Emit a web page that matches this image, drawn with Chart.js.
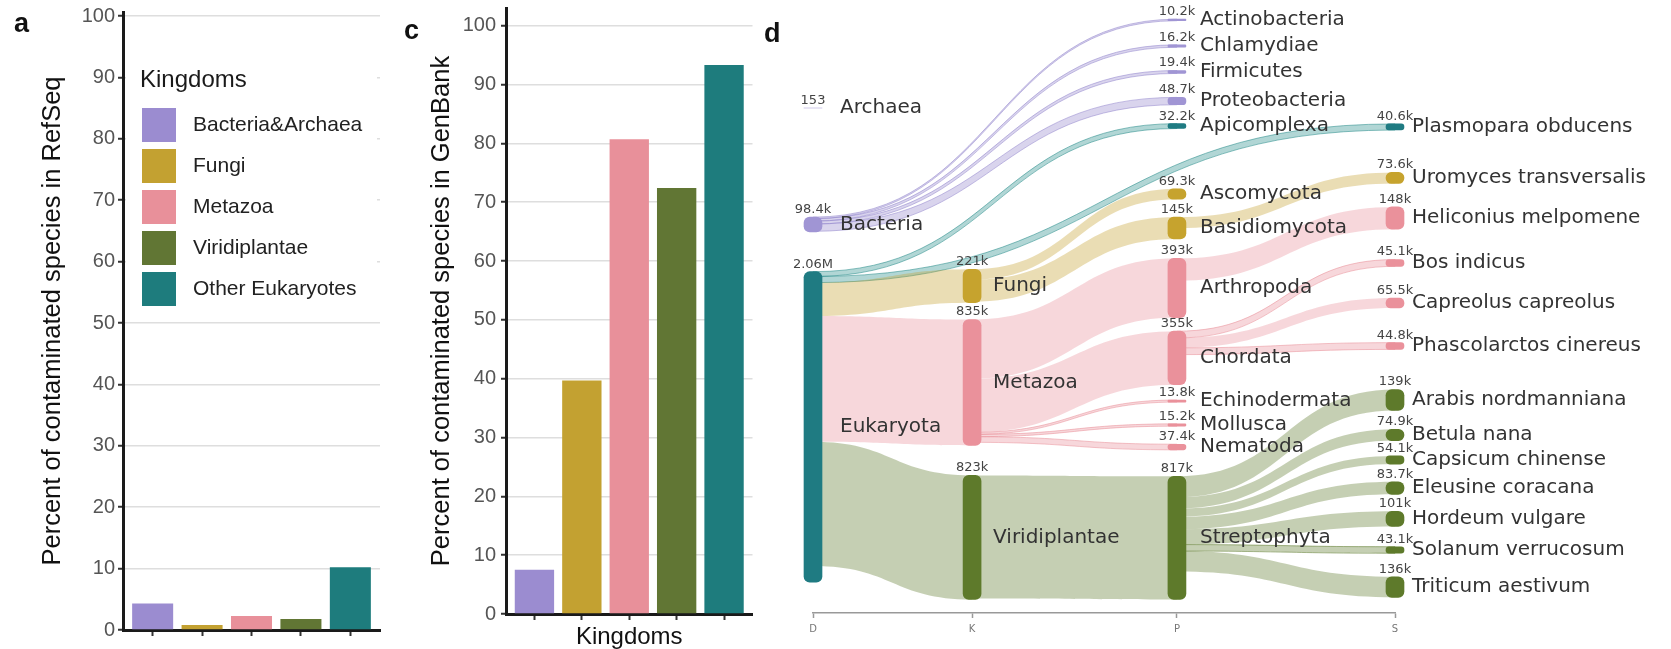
<!DOCTYPE html>
<html>
<head>
<meta charset="utf-8">
<script src="https://cdn.jsdelivr.net/npm/chart.js@4/dist/chart.umd.min.js"></script>
<style>
  body { margin: 0; background: #fff; }
  #wrap { position: relative; width: 1671px; height: 649px; overflow: hidden; }
  canvas { position: absolute; top: 0; }
  .tag { position: absolute; font: bold 27px "Liberation Sans", Arial, sans-serif; line-height: 27px; color: #111; }
</style>
</head>
<body>
<div id="wrap">
  <canvas id="chartA" width="395" height="649" style="left:0"></canvas>
  <canvas id="chartC" width="365" height="649" style="left:395px"></canvas>
  <canvas id="chartD" width="911" height="649" style="left:760px"></canvas>
  <div class="tag" style="left:14px;top:10px">a</div>
  <div class="tag" style="left:404px;top:17px">c</div>
  <div class="tag" style="left:764px;top:20px">d</div>
</div>
<script>
// bar panels
const kingdoms = ["Bacteria&Archaea", "Fungi", "Metazoa", "Viridiplantae", "Other Eukaryotes"];
const kingdomColors = ["#9b8cd0", "#c3a131", "#e8909a", "#617634", "#1e7c7d"];
const refseqPct = [4.3, 0.8, 2.3, 1.8, 10.2];
const genbankPct = [7.5, 39.7, 80.7, 72.4, 93.3];
const pctTicks = [0, 10, 20, 30, 40, 50, 60, 70, 80, 90, 100];

// sankey panel (values in thousands of sequences)
const levels = ["D", "K", "P", "S"];
const nodeNames = [
    "Archaea", "Bacteria", "Eukaryota",
    "Fungi", "Metazoa", "Viridiplantae",
    "Actinobacteria", "Chlamydiae", "Firmicutes", "Proteobacteria", "Apicomplexa",
    "Ascomycota", "Basidiomycota", "Arthropoda", "Chordata",
    "Echinodermata", "Mollusca", "Nematoda", "Streptophyta",
    "Plasmopara obducens", "Uromyces transversalis", "Heliconius melpomene",
    "Bos indicus", "Capreolus capreolus", "Phascolarctos cinereus",
    "Arabis nordmanniana", "Betula nana", "Capsicum chinense", "Eleusine coracana",
    "Hordeum vulgare", "Solanum verrucosum", "Triticum aestivum"
];
const nodeLevel = [0, 0, 0, 1, 1, 1, 2, 2, 2, 2, 2, 2, 2, 2, 2, 2, 2, 2, 2,
    3, 3, 3, 3, 3, 3, 3, 3, 3, 3, 3, 3, 3];
const nodeValues = [0.153, 98.4, 2060, 221, 835, 823,
    10.2, 16.2, 19.4, 48.7, 32.2, 69.3, 145, 393, 355, 13.8, 15.2, 37.4, 817,
    40.6, 73.6, 148, 45.1, 65.5, 44.8, 139, 74.9, 54.1, 83.7, 101, 43.1, 136];
const nodeGroup = ["bac", "bac", "euk", "fun", "met", "pla",
    "bac", "bac", "bac", "bac", "euk", "fun", "fun", "met", "met", "met", "met", "met", "pla",
    "euk", "fun", "met", "met", "met", "met", "pla", "pla", "pla", "pla", "pla", "pla", "pla"];
const linkSource = ["Bacteria", "Bacteria", "Bacteria", "Bacteria",
    "Eukaryota", "Eukaryota", "Eukaryota", "Eukaryota", "Eukaryota",
    "Fungi", "Fungi", "Metazoa", "Metazoa", "Metazoa", "Metazoa", "Metazoa", "Viridiplantae",
    "Basidiomycota", "Arthropoda", "Chordata", "Chordata", "Chordata",
    "Streptophyta", "Streptophyta", "Streptophyta", "Streptophyta", "Streptophyta", "Streptophyta", "Streptophyta"];
const linkTarget = ["Actinobacteria", "Chlamydiae", "Firmicutes", "Proteobacteria",
    "Apicomplexa", "Plasmopara obducens", "Fungi", "Metazoa", "Viridiplantae",
    "Ascomycota", "Basidiomycota", "Arthropoda", "Chordata", "Echinodermata", "Mollusca", "Nematoda", "Streptophyta",
    "Uromyces transversalis", "Heliconius melpomene", "Bos indicus", "Capreolus capreolus", "Phascolarctos cinereus",
    "Arabis nordmanniana", "Betula nana", "Capsicum chinense", "Eleusine coracana", "Hordeum vulgare", "Solanum verrucosum", "Triticum aestivum"];

// sankey layout: column positions on the x scale, node centres on the y scale
const levelPos = [0, 0.82, 1.876, 3];
const nodeCenter = [650, 1423, 2766, 1831, 2471, 3499,
    66, 239, 411, 604, 770, 1221, 1446, 1844, 2308, 2594, 2753, 2899, 3502,
    776, 1114, 1380, 1678, 1944, 2229, 2587, 2819, 2985, 3171, 3376, 3582, 3828];
const labelOffset = [27, 21, 23, 17];

const groupColors = { bac: "#a095d4", euk: "#1f7b82", fun: "#c6a32e", met: "#ea919b", pla: "#5e7a2b" };
const flowColors = { bac: "150,136,206", euk: "40,140,138", fun: "196,162,47", met: "233,145,154", pla: "93,122,44" };

const sansFont = '"Liberation Sans", Arial, sans-serif';
const NODE_W = 18;

const legendPlugin = {
    id: "kingdomLegend",
    afterDraw(chart) {
        let ctx = chart.ctx;
        let a = chart.chartArea;
        ctx.save();
        ctx.fillStyle = "#fff";
        ctx.fillRect(a.left + 3, a.top + 30, a.right - a.left - 6, 272);
        ctx.fillStyle = "#1a1a1a";
        ctx.textBaseline = "middle";
        ctx.font = "24px " + sansFont;
        ctx.fillText("Kingdoms", a.left + 17, a.top + 68);
        ctx.font = "21px " + sansFont;
        kingdoms.forEach((k, i) => {
            let top = a.top + 96 + i * 41;
            ctx.fillStyle = kingdomColors[i];
            ctx.fillRect(a.left + 19, top, 34, 34);
            ctx.fillStyle = "#222";
            ctx.fillText(k, a.left + 70, top + 17);
        });
        ctx.restore();
    }
};

function barChart(id, values, o) {
    return new Chart(document.getElementById(id), {
        type: "bar",
        data: {
            datasets: [{
                data: kingdoms.map((k, i) => ({ x: i, y: values[i] })),
                backgroundColor: kingdomColors,
                barPercentage: 0.83,
                categoryPercentage: 1
            }]
        },
        options: {
            responsive: false,
            animation: false,
            devicePixelRatio: 1,
            events: [],
            layout: { padding: o.padding },
            plugins: { legend: { display: false }, tooltip: { enabled: false } },
            scales: {
                x: {
                    type: "linear", min: -0.6, max: 4.6, offset: false,
                    afterBuildTicks: s => { s.ticks = kingdoms.map((k, i) => ({ value: i })); },
                    afterFit: s => { s.height = o.xHeight; s.paddingLeft = 0; s.paddingRight = 0; },
                    ticks: { display: false },
                    grid: { offset: false, drawOnChartArea: false, tickLength: 6, tickColor: "#333", tickWidth: 2 },
                    border: { color: "#1a1a1a", width: 3 },
                    title: o.xTitle || { display: false }
                },
                y: {
                    min: 0, max: o.yMax,
                    afterBuildTicks: s => { s.ticks = pctTicks.map(v => ({ value: v })); },
                    afterFit: s => { s.width = o.yWidth; s.paddingTop = 0; s.paddingBottom = 0; },
                    ticks: { color: "#555", font: { family: sansFont, size: 20 }, padding: o.tickPad },
                    grid: { color: "#dedede", lineWidth: 1.5, tickColor: "#333", tickWidth: 2, tickLength: 5 },
                    border: { color: "#1a1a1a", width: 3 },
                    title: {
                        display: true, text: o.yTitle, color: "#111",
                        font: { family: sansFont, size: 25.5, lineHeight: 1.1 },
                        padding: { top: o.yTitlePad, bottom: 0 }
                    }
                }
            }
        },
        plugins: o.plugins || []
    });
}

barChart("chartA", refseqPct, {
    padding: { left: 0, right: 15, top: 12, bottom: 0 },
    yMax: 100.65, yWidth: 123, xHeight: 19, tickPad: 3, yTitlePad: 39,
    yTitle: "Percent of contaminated species in RefSeq",
    plugins: [legendPlugin]
});

barChart("chartC", genbankPct, {
    padding: { left: 0, right: 7.5, top: 8, bottom: 0 },
    yMax: 103, yWidth: 111, xHeight: 35, tickPad: 5, yTitlePad: 33,
    yTitle: "Percent of contaminated species in GenBank",
    xTitle: {
        display: true, text: "Kingdoms", color: "#111",
        font: { family: sansFont, size: 24, lineHeight: 1 },
        padding: { top: 0, bottom: 0 }
    }
});

function fmtValue(v) {
    if (v >= 1000) return (v / 1000).toFixed(2) + "M";
    if (v >= 100) return Math.round(v) + "k";
    if (v >= 1) return v.toFixed(1) + "k";
    return String(Math.round(v * 1000));
}

const sankeyFlows = {
    id: "sankeyFlows",
    beforeDatasetsDraw(chart) {
        let ctx = chart.ctx;
        let x = chart.scales.x, y = chart.scales.y;
        let band = v => Math.abs(y.getPixelForValue(v) - y.getPixelForValue(0));
        let nodeTop = i => y.getPixelForValue(nodeCenter[i] - nodeValues[i] / 2);
        let links = linkSource.map((s, k) => ({ s: nodeNames.indexOf(s), t: nodeNames.indexOf(linkTarget[k]) }));
        let outOff = {}, inOff = {};
        links.slice().sort((a, b) => nodeCenter[a.t] - nodeCenter[b.t]).forEach(l => {
            l.y0 = nodeTop(l.s) + (outOff[l.s] || 0);
            outOff[l.s] = (outOff[l.s] || 0) + band(nodeValues[l.t]);
        });
        links.slice().sort((a, b) => nodeCenter[a.s] - nodeCenter[b.s]).forEach(l => {
            l.y1 = nodeTop(l.t) + (inOff[l.t] || 0);
            inOff[l.t] = (inOff[l.t] || 0) + band(nodeValues[l.t]);
        });
        ctx.save();
        links.forEach(l => {
            let w = band(nodeValues[l.t]);
            let x0 = x.getPixelForValue(levelPos[nodeLevel[l.s]]);
            let x1 = x.getPixelForValue(levelPos[nodeLevel[l.t]]);
            let xm = (x0 + x1) / 2;
            let rgb = flowColors[nodeGroup[l.t]];
            ctx.beginPath();
            ctx.moveTo(x0, l.y0);
            ctx.bezierCurveTo(xm, l.y0, xm, l.y1, x1, l.y1);
            ctx.lineTo(x1, l.y1 + w);
            ctx.bezierCurveTo(xm, l.y1 + w, xm, l.y0 + w, x0, l.y0 + w);
            ctx.closePath();
            ctx.fillStyle = "rgba(" + rgb + ",0.36)";
            ctx.fill();
            if (w < 8) {
                ctx.strokeStyle = "rgba(" + rgb + ",0.55)";
                ctx.lineWidth = 1;
                ctx.stroke();
            }
        });
        ctx.restore();
    },
    afterDatasetsDraw(chart) {
        let ctx = chart.ctx;
        let x = chart.scales.x, y = chart.scales.y;
        ctx.save();
        nodeNames.forEach((n, i) => {
            let cx = x.getPixelForValue(levelPos[nodeLevel[i]]);
            let top = y.getPixelForValue(nodeCenter[i] - nodeValues[i] / 2);
            let cy = y.getPixelForValue(nodeCenter[i]);
            ctx.font = '13px "DejaVu Sans"';
            ctx.textAlign = "center";
            ctx.textBaseline = "bottom";
            ctx.fillStyle = "#444";
            ctx.fillText(fmtValue(nodeValues[i]), cx, top - 1);
            ctx.font = '20px "DejaVu Sans"';
            ctx.textAlign = "left";
            ctx.textBaseline = "middle";
            ctx.fillStyle = "#333";
            ctx.fillText(n, cx + labelOffset[nodeLevel[i]], cy);
        });
        ctx.restore();
    }
};

new Chart(document.getElementById("chartD"), {
    type: "bar",
    data: {
        datasets: [{
            data: nodeNames.map((n, i) => ({
                x: levelPos[nodeLevel[i]],
                y: [nodeCenter[i] - nodeValues[i] / 2, nodeCenter[i] + nodeValues[i] / 2]
            })),
            backgroundColor: nodeGroup.map(g => groupColors[g]),
            barThickness: NODE_W,
            borderRadius: 6,
            borderSkipped: false,
            clip: false
        }]
    },
    options: {
        responsive: false,
        animation: false,
        devicePixelRatio: 1,
        events: [],
        layout: { padding: { left: 53, right: 276, top: 10, bottom: 0 } },
        plugins: { legend: { display: false }, tooltip: { enabled: false } },
        scales: {
            x: {
                type: "linear", min: 0, max: 3, offset: false,
                afterBuildTicks: s => { s.ticks = levelPos.map(v => ({ value: v })); },
                afterFit: s => { s.height = 36; s.paddingLeft = 0; s.paddingRight = 0; },
                ticks: {
                    callback: (v, i) => levels[i], autoSkip: false, maxRotation: 0,
                    color: "#777", font: { family: '"DejaVu Sans"', size: 10 }, padding: 5
                },
                grid: { offset: false, drawOnChartArea: false, tickLength: 5, tickColor: "#999", tickWidth: 1.5 },
                border: { color: "#999", width: 1.5 }
            },
            y: { display: false, reverse: true, min: 0, max: 4000 }
        }
    },
    plugins: [sankeyFlows]
});
</script>
</body>
</html>
